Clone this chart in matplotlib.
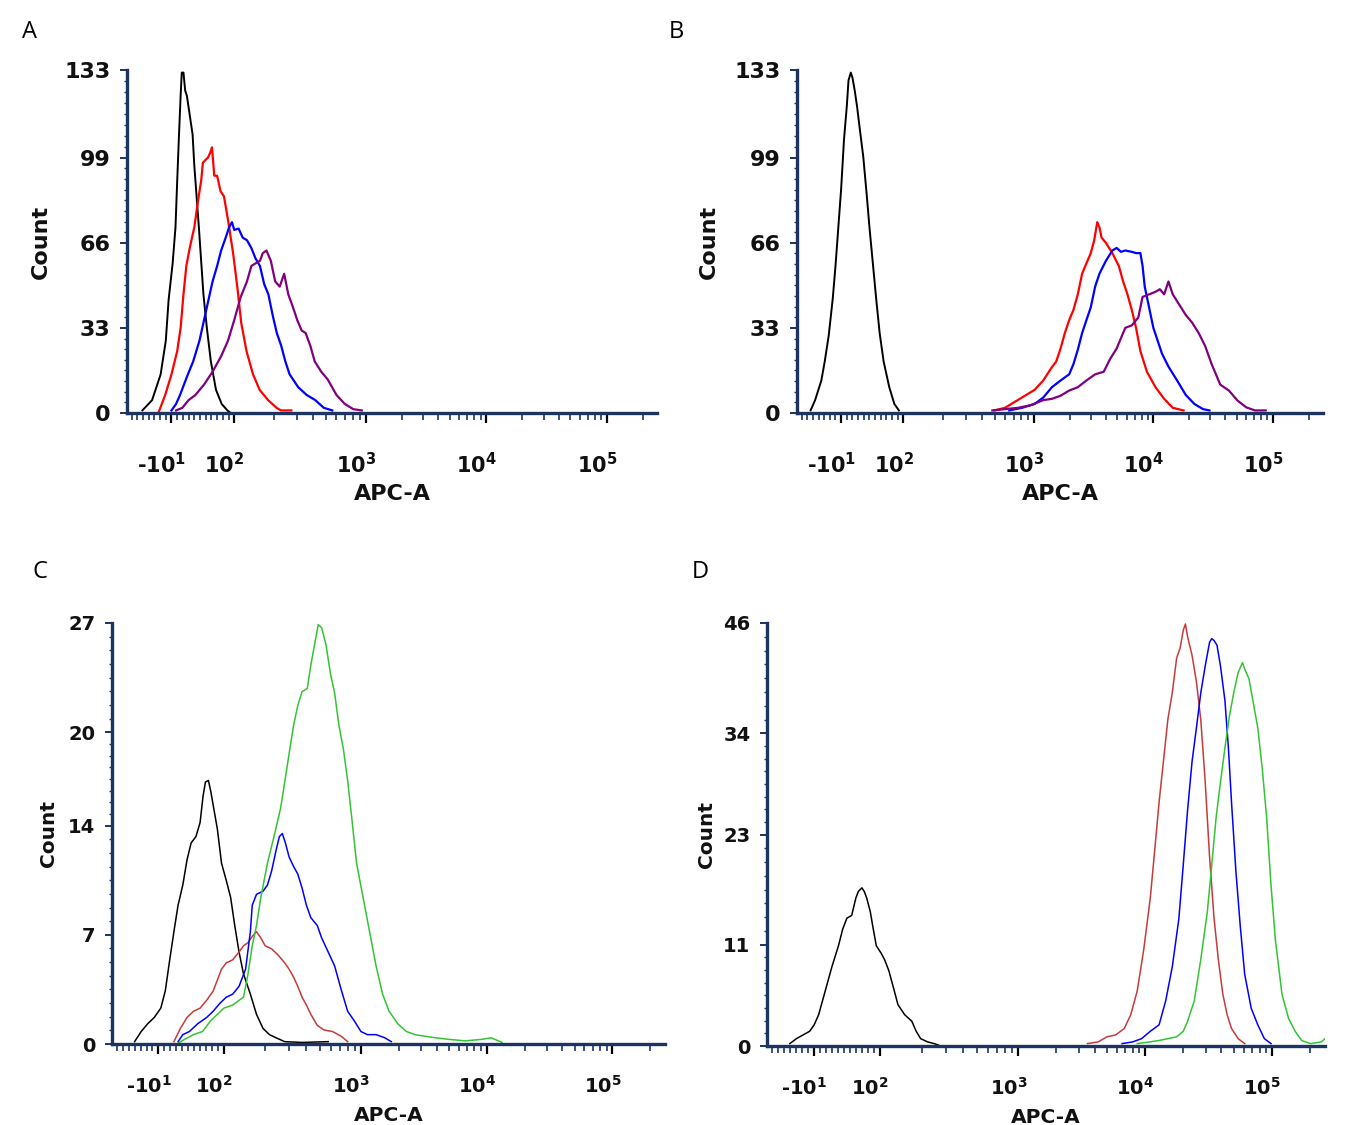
"""
Four flow-cytometry overlay histograms (APC-A, biexponential-style axis).
"""
import numpy as np
import matplotlib
matplotlib.use("Agg")
import matplotlib.pyplot as plt
from matplotlib.transforms import ScaledTranslation

plt.rcParams["mathtext.default"] = "bf"
plt.rcParams["mathtext.fontset"] = "dejavusans"

# ---------------------------------------------------------------------------
# data (APC-A intensity, event count)
# ---------------------------------------------------------------------------
# panel A
a_black_x = [-61, -44, -29, -20, -15, -8, -3, 0, 3, 6, 8, 11, 14, 17, 21, 27, 30, 34,
             38, 42, 46, 52, 59, 68, 78, 88, 94]
a_black_y = [1, 5, 15, 28, 44, 58, 72, 90, 107, 123, 132, 132, 125, 123, 117, 108, 96, 84,
             72, 59, 46, 33, 20, 9, 3.5, 1, 0]
a_red_x = [-33, -21, -10, 0, 6, 11, 16, 22, 30, 37, 42, 45, 49, 54, 58, 61, 65, 70, 76, 82,
           89, 98, 106, 113, 124, 139, 156, 181, 210, 227, 272]
a_red_y = [0, 7, 15, 24, 33, 46, 57, 64, 72, 83, 90, 97, 98, 99, 101, 103, 92, 92, 86, 84,
           75, 62, 48, 35, 24, 15, 9, 5, 2, 1, 1]
a_blue_x = [-10, -2, 5, 17, 28, 39, 47, 55, 62, 70, 77, 85, 91, 96, 100, 108, 116, 125, 135,
            145, 157, 169, 182, 196, 211, 228, 245, 264, 307, 356, 414, 481, 558]
a_blue_y = [1, 3.5, 7, 14, 20, 28, 36, 44, 51, 57, 63, 68, 72, 74, 71, 71.5, 68, 67, 64,
            60, 57, 50, 46, 38, 31, 26, 20, 15, 10, 7, 5, 2, 1]
a_purple_x = [-2, 9, 20, 32, 47, 62, 77, 89, 100, 112, 125, 135, 145, 157, 165, 176, 190,
              205, 222, 240, 258, 280, 302, 326, 350, 380, 410, 460, 515, 600, 695, 805, 935]
a_purple_y = [1, 2, 5, 7, 11, 16, 22, 28, 36, 45, 51, 57, 58, 59, 62, 63, 59, 51, 49, 54,
              46, 41, 36, 32, 31, 26, 20, 16, 13, 7, 3.5, 1.5, 1]

# panel B
b_black_x = [-64, -56, -45, -39, -32, -25, -20, -15, -10, -5, 0, 3, 7, 10, 14, 18, 23, 29,
             35, 40, 46, 52, 58, 65, 75, 84, 92]
b_black_y = [1, 5, 12.6, 20, 30, 44, 57, 72, 87, 106, 119, 129, 132, 130, 125, 119, 110,
             99.5, 85, 72, 58, 44, 31, 20, 10, 3.5, 1]
b_red_x = [499, 601, 753, 875, 1017, 1200, 1418, 1541, 1675, 1819, 1977, 2148, 2334, 2536,
           2755, 2997, 3202, 3394, 3540, 3690, 4009, 4541, 5143, 5588, 6072, 6597, 7170,
           7792, 8830, 10425, 12310, 14530, 17890]
b_red_y = [1, 2, 5, 7, 9, 12.6, 17.8, 20, 25, 31, 36, 40, 46, 54, 58, 62, 67, 74, 72, 68,
           66, 62, 57, 51, 46, 40, 33, 24, 16, 10, 5.5, 2, 1]
b_blue_x = [649, 811, 1017, 1200, 1418, 1675, 1977, 2148, 2334, 2536, 2755, 2997, 3259,
            3540, 4009, 4541, 4932, 5358, 5821, 6597, 7170, 7792, 8123, 8470, 9204, 10000,
            10870, 11810, 13370, 15800, 18660, 22040, 26020, 29450]
b_blue_y = [1, 2, 3.5, 6, 10, 12.6, 15, 19, 24.5, 31, 36, 41, 49, 54, 59, 63, 64, 62.5,
            63, 62.5, 62, 62, 57, 49, 41, 33, 28, 23, 18, 12.6, 7, 3.5, 1.5, 1]
b_purple_x = [481, 601, 753, 943, 1200, 1418, 1675, 1977, 2334, 2755, 3259, 3846, 4354,
              4932, 5358, 5821, 6597, 7479, 8123, 9204, 10425, 11330, 12310, 13370, 14530,
              16480, 18660, 21130, 23940, 27100, 30690, 36270, 42850, 50620, 59800, 70650,
              86900]
b_purple_y = [1, 1.5, 2, 3, 5, 5.5, 6.7, 8.7, 10, 12.6, 15, 16, 21, 25, 29, 33, 34, 37, 45,
              46, 47, 48, 46, 51, 46, 42, 38, 35, 31, 26, 19, 11, 8.7, 4.8, 2.2, 1, 1]

# panel C
c_black_x = [-50, -39, -28, -17, -6, 1.5, 9, 16, 23, 31, 38, 45, 53, 60, 65, 69, 74, 78,
             83, 89, 96, 104, 112, 120, 129, 139, 156, 173, 193, 215, 240, 278, 372, 577]
c_black_y = [0.15, 0.8, 1.3, 1.7, 2.3, 3.4, 5.4, 7.2, 8.9, 10.2, 11.8, 12.9, 13.3, 14.2,
             15.9, 16.8, 16.9, 16.2, 15.1, 13.8, 11.6, 10.5, 9.4, 7.6, 5.9, 4.5, 3.2, 1.9,
             1.0, 0.6, 0.4, 0.15, 0.1, 0.15]
c_red_x = [16, 27, 38, 49, 60, 71, 82, 89, 96, 104, 116, 129, 139, 150, 161, 173, 186, 200,
           223, 249, 278, 299, 322, 346, 372, 400, 431, 480, 537, 620, 717, 800]
c_red_y = [0.15, 1.0, 1.7, 2.1, 2.3, 2.8, 3.4, 4.1, 4.8, 5.2, 5.4, 5.9, 6.3, 6.5, 6.9, 7.2,
           6.8, 6.3, 6.1, 5.7, 5.2, 4.8, 4.3, 3.7, 3.0, 2.5, 1.9, 1.2, 0.9, 0.8, 0.5, 0.15]
c_blue_x = [23, 31, 42, 56, 71, 82, 93, 104, 116, 129, 144, 156, 161, 173, 193, 208, 223,
            240, 254, 267, 281, 299, 322, 346, 372, 400, 431, 480, 517, 577, 643, 717, 800,
            892, 1000, 1127, 1320, 1548, 1744]
c_blue_y = [0.15, 0.6, 0.8, 1.3, 1.7, 2.1, 2.6, 3.0, 3.2, 3.7, 4.8, 7.2, 8.9, 9.6, 9.8,
            10.2, 11.1, 12.4, 13.3, 13.5, 12.9, 12.0, 11.4, 10.9, 10.0, 8.9, 8.1, 7.6, 6.8,
            5.9, 5.0, 3.5, 2.1, 1.5, 0.8, 0.6, 0.6, 0.4, 0.15]
c_green_x = [23, 34, 49, 64, 78, 89, 100, 116, 129, 139, 150, 161, 173, 186, 208, 232, 259,
             278, 299, 322, 346, 372, 406, 431, 463, 488, 517, 556, 598, 643, 692, 745, 800,
             862, 929, 1040, 1172, 1320, 1487, 1675, 1964, 2301, 2697, 3226, 3924, 4974,
             6756, 9181, 10840, 13290]
c_green_y = [0.05, 0.3, 0.6, 0.8, 1.5, 1.9, 2.3, 2.5, 2.8, 3.0, 4.5, 6.3, 7.6, 9.4, 11.6,
             13.3, 15.1, 16.8, 18.6, 20.4, 21.7, 22.6, 22.8, 24.3, 25.8, 26.9, 26.7, 25.6,
             23.8, 22.5, 20.4, 18.9, 16.9, 14.3, 11.6, 9.4, 7.2, 5.0, 3.2, 2.1, 1.3, 0.8,
             0.6, 0.5, 0.4, 0.3, 0.2, 0.3, 0.4, 0.1]

# panel D
d_black_x = [-50, -39, -28, -17, -9.5, -2, 9, 20, 31, 38, 45, 53, 60, 64, 70, 74, 78, 84,
             89, 94, 102, 108, 116, 125, 135, 151, 170, 183, 197, 221, 247, 267]
d_black_y = [0.26, 0.8, 1.2, 1.6, 2.3, 3.4, 6.0, 8.6, 10.9, 12.7, 13.9, 14.2, 16.1, 16.8,
             17.2, 16.8, 16.1, 14.6, 12.7, 10.9, 10.1, 9.4, 8.2, 6.4, 4.5, 3.4, 2.7, 1.6,
             0.8, 0.45, 0.26, 0.07]
d_red_x = [3516, 4276, 5009, 5864, 6861, 7715, 8680, 9770, 11000, 11920, 12900, 13970,
           15130, 16390, 17750, 18920, 20010, 20810, 21660, 23460, 25410, 27500, 29780,
           32250, 34930, 37830, 40960, 44370, 48050, 54170, 61020]
d_red_y = [0.26, 0.45, 1.0, 1.2, 1.9, 3.4, 6.0, 10.5, 16.1, 21.3, 26.5, 31.0, 35.5, 38.4,
           42.2, 43.3, 45.2, 45.9, 44.5, 42.5, 39.6, 35.5, 28.8, 20.6, 14.0, 9.4, 5.7, 3.4,
           1.9, 0.8, 0.26]
d_blue_x = [6594, 8017, 9389, 11000, 12900, 14540, 16390, 18460, 20010, 21660, 23460,
            25410, 27500, 29780, 32250, 33560, 34930, 36890, 39330, 42610, 45420, 48050,
            52020, 56340, 61020, 68710, 77400, 87200, 98400]
d_blue_y = [0.26, 0.45, 0.8, 1.6, 2.3, 4.9, 8.6, 13.8, 19.7, 25.7, 30.9, 34.6, 38.4, 41.3,
            43.9, 44.3, 44.1, 43.6, 41.3, 37.6, 32.4, 26.5, 19.0, 13.0, 7.8, 4.1, 2.3, 0.8,
            0.26]
d_green_x = [8680, 11000, 12900, 15130, 17750, 20010, 21660, 24420, 27500, 30990, 33560,
             36360, 39330, 42610, 46160, 50000, 54170, 58650, 61020, 66060, 71560, 77400,
             83900, 90800, 98400, 106600, 120200, 135300, 152500, 171800, 201400, 245900,
             262000]
d_green_y = [0.26, 0.45, 0.6, 0.8, 1.0, 1.6, 2.7, 4.9, 9.4, 14.6, 19.7, 24.9, 28.7, 32.4,
             35.8, 38.4, 40.6, 41.7, 41.0, 39.9, 37.2, 34.6, 30.2, 24.9, 17.5, 11.5, 5.6,
             3.0, 1.6, 0.6, 0.26, 0.45, 0.8]

a_yticks = [0, 33, 66, 99, 133]
c_yticks = [0, 7, 14, 20, 27]
d_yticks = [0, 11, 23, 34, 46]

x_major = [-10, 1e2, 1e3, 1e4, 1e5]
x_major_labels = ["-$10^{1}$", "$10^{2}$", "$10^{3}$", "$10^{4}$", "$10^{5}$"]
x_minor = ([v for v in range(-80, 100, 10) if v != -10]
           + [m * 10 ** e for e in (2, 3, 4) for m in range(2, 10)] + [2e5])

# ---------------------------------------------------------------------------
# linear-below-100 / log-above axis (first decade slightly stretched)
# ---------------------------------------------------------------------------
LN10 = np.log(10.0)
S = 1.09


def fwd(x):
    x = np.asarray(x, dtype=float)
    lin = 2 + S * (x - 100) / (100 * LN10)
    lx = np.log10(np.clip(x, 100, None))
    mid = 2 + S * (lx - 2)
    hi = lx - 1 + S
    return np.where(x < 100, lin, np.where(x < 1000, mid, hi))


def inv(p):
    p = np.asarray(p, dtype=float)
    lin = 100 + (p - 2) * 100 * LN10 / S
    mid = 10 ** (2 + (np.clip(p, 2, 2 + S) - 2) / S)
    hi = 10 ** (np.clip(p, 2 + S, 9) + 1 - S)
    return np.where(p < 2, lin, np.where(p < 2 + S, mid, hi))


NAVY = "#1d3461"
W, H = 1363, 1125
fig = plt.figure(figsize=(W / 100, H / 100), dpi=100)


def px_axes(left, top, right, bottom):
    return fig.add_axes([left / W, 1 - bottom / H, (right - left) / W, (bottom - top) / H])


def style(ax, yticks, fs_ytick, fs_xtick, fs_lab, ylab_x, xlab_y, xpad):
    ax.set_xscale("function", functions=(fwd, inv))
    ax.set_xlim(-88, 262144)
    ax.set_ylim(yticks[0], yticks[-1])
    for s in ("top", "right"):
        ax.spines[s].set_visible(False)
    for s in ("left", "bottom"):
        ax.spines[s].set_color(NAVY)
        ax.spines[s].set_linewidth(2.4)
    ax.set_xticks(x_major)
    ax.set_xticklabels(x_major_labels)
    ax.set_xticks(x_minor, minor=True)
    ax.tick_params(axis="x", which="major", length=7, width=1.6, color="black",
                   pad=xpad, labelsize=fs_xtick)
    ax.tick_params(axis="x", which="minor", length=5, width=1.2, color=NAVY)
    ax.set_yticks(yticks)
    ym = []
    for lo, hi in zip(yticks[:-1], yticks[1:]):
        ym += list(np.linspace(lo, hi, 9)[1:-1])
    ax.set_yticks(ym, minor=True)
    ax.tick_params(axis="y", which="major", length=5, width=1.4, color=NAVY,
                   pad=7, labelsize=fs_ytick)
    ax.tick_params(axis="y", which="minor", length=2, width=1.0, color=NAVY)
    for lab in ax.get_xticklabels() + ax.get_yticklabels():
        lab.set_fontweight("bold")
        lab.set_color("#111111")
    off = ScaledTranslation(-7 / 72, 0, fig.dpi_scale_trans)
    for lab in ax.get_xticklabels():
        lab.set_transform(lab.get_transform() + off)
    ax.set_ylabel("Count", fontsize=fs_lab, fontweight="bold", color="#111111")
    ax.set_xlabel("APC-A", fontsize=fs_lab, fontweight="bold", color="#111111")
    ax.yaxis.set_label_coords(ylab_x, 0.5)
    ax.xaxis.set_label_coords(0.5, xlab_y)


# --- A ---
axA = px_axes(127, 70, 657, 413)
axA.plot(a_black_x, a_black_y, color="black", lw=1.4)
axA.plot(a_red_x, a_red_y, color="#ff0000", lw=1.6)
axA.plot(a_blue_x, a_blue_y, color="#0000ff", lw=1.6)
axA.plot(a_purple_x, a_purple_y, color="#800080", lw=1.6)
style(axA, a_yticks, 16, 15, 16, -0.143, -0.208, 21)

# --- B ---
axB = px_axes(797, 70, 1323, 413)
axB.plot(b_black_x, b_black_y, color="black", lw=1.4)
axB.plot(b_red_x, b_red_y, color="#ff0000", lw=1.6)
axB.plot(b_blue_x, b_blue_y, color="#0000ff", lw=1.6)
axB.plot(b_purple_x, b_purple_y, color="#800080", lw=1.6)
style(axB, a_yticks, 16, 15, 16, -0.148, -0.208, 21)

# --- C ---
axC = px_axes(112, 623, 665, 1044)
axC.plot(c_black_x, c_black_y, color="black", lw=1.1)
axC.plot(c_red_x, c_red_y, color="#c83a3a", lw=1.1)
axC.plot(c_blue_x, c_blue_y, color="#0000ff", lw=1.1)
axC.plot(c_green_x, c_green_y, color="#33c433", lw=1.1)
style(axC, c_yticks, 14, 14, 14.5, -0.098, -0.148, 15)

# --- D ---
axD = px_axes(767, 623, 1325, 1046)
axD.plot(d_black_x, d_black_y, color="black", lw=1.1)
axD.plot(d_red_x, d_red_y, color="#c83a3a", lw=1.1)
axD.plot(d_blue_x, d_blue_y, color="#0000ff", lw=1.1)
axD.plot(d_green_x, d_green_y, color="#33c433", lw=1.1)
style(axD, d_yticks, 14, 14, 14.5, -0.091, -0.146, 15)

for letter, x, y in (("A", 30, 32), ("B", 676, 32), ("C", 40, 572), ("D", 700, 572)):
    fig.text(x / W, 1 - y / H, letter, ha="center", va="center", fontsize=17,
             family="Open Sans", color="black")

fig.savefig("out.png", dpi=100)
